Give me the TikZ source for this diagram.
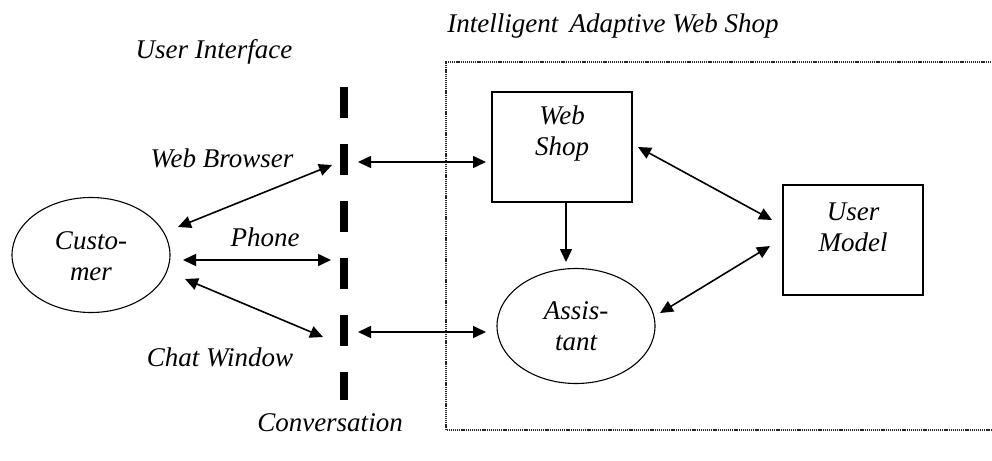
\documentclass[tikz,border=0pt]{standalone}
\usepackage{fontspec}
\setmainfont{Liberation Serif}
\usetikzlibrary{arrows.meta,shapes.geometric}
\tikzset{
  x=1pt,y=-1pt,
  txt/.style={font=\fontsize{27}{31}\selectfont\itshape, inner sep=0pt, align=center},
  box/.style={draw, line width=1.4pt, minimum width=140pt, minimum height=110pt, inner sep=0pt},
  oval/.style={draw, ellipse, line width=1.1pt, minimum width=158pt, minimum height=115pt, inner sep=0pt},
  conn/.style={line width=1.6pt, {Triangle[length=13pt,width=12pt]}-{Triangle[length=13pt,width=12pt]}},
  oneway/.style={line width=1.6pt, -{Triangle[length=13pt,width=12pt]}},
  sep/.style={line width=8pt, dash pattern=on 31pt off 26pt},
  frame/.style={line width=1.1pt, dash pattern=on 1.2pt off 0.9pt, black!85}
}
\begin{document}
\begin{tikzpicture}
\useasboundingbox (0,0) rectangle (992,460);
% frame of the web shop
\coordinate (ftr) at (993,62);
\coordinate (ftl) at (446,62);
\coordinate (fbl) at (446,430);
\coordinate (fbr) at (993,430);
\draw[frame] (ftr) -- (ftl) -- (fbl) -- (fbr);
% conversation separator
\coordinate (sept) at (344,87);
\coordinate (sepb) at (344,400);
\draw[sep] (sept) -- (sepb);
% nodes
\node[oval] (cust) at (91,255) {};
\node[txt] (custt) at (91,256) {Custo-\\mer};
\node[box] (ws) at (562,147) {};
\node[txt] (wst) at (562,134) {Web\\Shop};
\node[oval] (asst) at (576,326) {};
\node[txt] (asstt) at (576,326) {Assis-\\tant};
\node[box] (um) at (853,240) {};
\node[txt] (umt) at (853,227) {User\\Model};
% labels
\node[txt] (ui) at (214,52) {User Interface};
\node[txt] (iaws) at (613,26) {Intelligent\, Adaptive Web Shop};
\node[txt] (wb) at (222,158) {Web Browser};
\node[txt] (ph) at (265,237) {Phone};
\node[txt] (cw) at (220,357) {Chat Window};
\node[txt] (conv) at (330,423) {Conversation};
% connector end points
\coordinate (cwb) at (178,227);
\coordinate (swb) at (332,165);
\coordinate (cph) at (183,260);
\coordinate (sph) at (331,260);
\coordinate (ccw) at (185,279);
\coordinate (scw) at (323,337);
\coordinate (sws) at (358,162);
\coordinate (wsl) at (486,162);
\coordinate (sas) at (358,332);
\coordinate (asl) at (486,332);
\coordinate (wsb) at (566,202);
\coordinate (ast) at (566,262);
\coordinate (wsr) at (638,147);
\coordinate (uml) at (772,220);
\coordinate (asr) at (660,313);
\coordinate (uml2) at (770,246);
% connectors
\draw[conn] (cwb) -- (swb);
\draw[conn] (cph) -- (sph);
\draw[conn] (ccw) -- (scw);
\draw[conn] (sws) -- (wsl);
\draw[conn] (sas) -- (asl);
\draw[oneway] (wsb) -- (ast);
\draw[conn] (wsr) -- (uml);
\draw[conn] (asr) -- (uml2);
\end{tikzpicture}
\end{document}
